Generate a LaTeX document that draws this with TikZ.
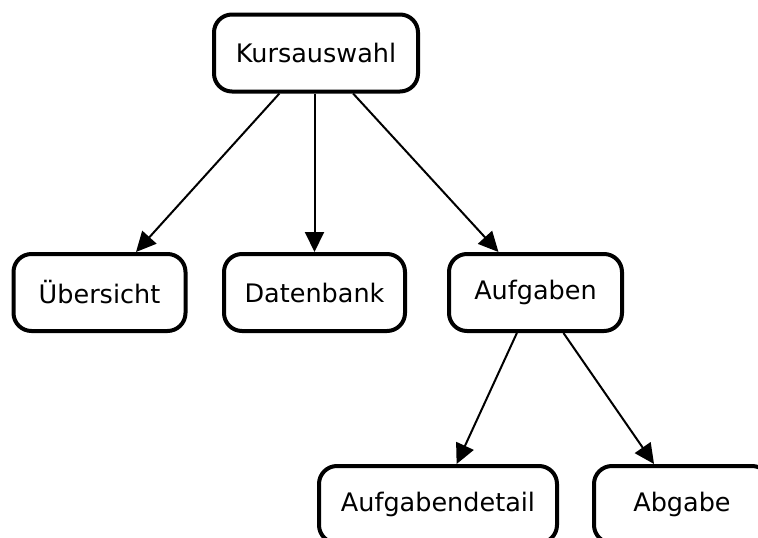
\documentclass[tikz,border=0pt]{standalone}
\usepackage{fontspec}
\setmainfont{DejaVu Sans}
\usetikzlibrary{arrows.meta}
\begin{document}
\begin{tikzpicture}[x=1pt,y=-1pt,
  box/.style={draw, rectangle, rounded corners=18pt, line width=4pt,
    minimum height=77pt, inner sep=0pt, font=\fontsize{25.5}{30}\selectfont},
  link/.style={line width=2pt, -{Triangle[length=20pt,width=19pt]}}]
\useasboundingbox (0,0) rectangle (758,538);
\node[box, minimum width=204pt] (kurs) at (316,53) {Kursauswahl};
\node[box, minimum width=172pt] (ueber) at (99.5,292.5) {Übersicht};
\node[box, minimum width=181pt] (daten) at (314.5,292.5) {Datenbank};
\node[box, minimum width=173pt] (aufg) at (535.5,292.5) {Aufgaben};
\node[box, minimum width=238pt] (detail) at (438,504.5) {Aufgabendetail};
\node[box, minimum width=176pt] (abgabe) at (682,504.5) {Abgabe};
\draw[link] (kurs) -- (ueber);
\draw[link] (kurs.south -| daten) -- (daten);
\draw[link] (kurs) -- (aufg);
\draw[link] (aufg) -- (detail);
\draw[link] (aufg) -- (abgabe);
\end{tikzpicture}
\end{document}
